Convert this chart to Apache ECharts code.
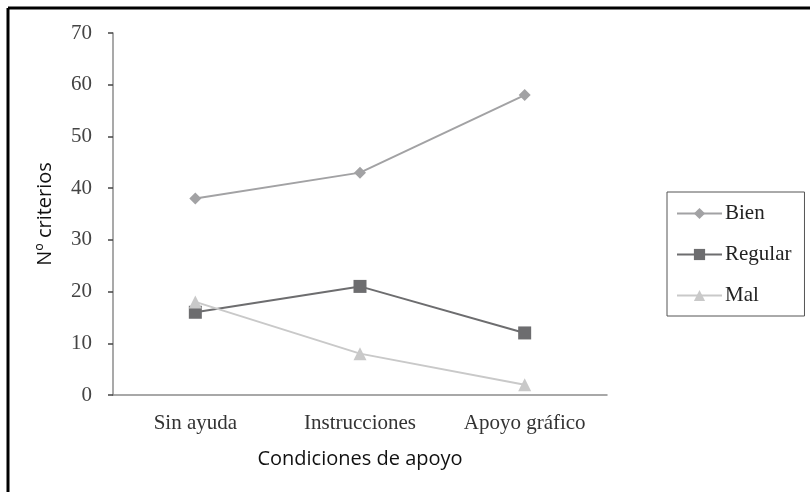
<!DOCTYPE html>
<html>
<head>
<meta charset="utf-8">
<script src="https://cdn.jsdelivr.net/npm/echarts@6/dist/echarts.min.js"></script>
<style>
  html, body { margin: 0; padding: 0; background: #fff; }
  #chart { width: 810px; height: 492px; }
</style>
</head>
<body>
<div id="chart"></div>
<script>
const categories = ['Sin ayuda', 'Instrucciones', 'Apoyo gráfico']
const bien = [38, 43, 58]
const regular = [16, 21, 12]
const mal = [18, 8, 2]
const yTicks = { min: 0, max: 70, interval: 10 }

const serif = 'Liberation Serif'
const sans = 'Open Sans'
const axisGray = '#8c8c8c'

const chart = echarts.init(document.getElementById('chart'))

chart.setOption({
  backgroundColor: '#fff',
  animation: false,
  grid: { left: 113, right: 203, top: 33, bottom: 97 },
  legend: {
    orient: 'vertical',
    left: 667,
    top: 192,
    padding: [11, 13, 10, 9],
    itemWidth: 45,
    itemHeight: 14,
    itemGap: 20,
    borderColor: '#555',
    borderWidth: 1,
    textStyle: { fontFamily: serif, fontSize: 21, color: '#222', lineHeight: 20, padding: [0, 0, 0, -2] },
    data: ['Bien', 'Regular', 'Mal'],
  },
  xAxis: {
    type: 'category',
    data: categories,
    name: 'Condiciones de apoyo',
    nameLocation: 'middle',
    nameGap: 54,
    nameTextStyle: { fontFamily: sans, fontSize: 20, color: '#111' },
    axisLine: { lineStyle: { color: axisGray, width: 1.5 } },
    axisTick: { length: 5, lineStyle: { color: '#444', width: 1.5 } },
    axisLabel: { fontFamily: serif, fontSize: 21, color: '#333', margin: 18 },
  },
  yAxis: {
    type: 'value',
    min: yTicks.min,
    max: yTicks.max,
    interval: yTicks.interval,
    name: 'Nº criterios',
    nameLocation: 'middle',
    nameGap: 58,
    nameTextStyle: { fontFamily: sans, fontSize: 20, color: '#111' },
    axisLine: { show: true, lineStyle: { color: axisGray, width: 1.5 } },
    axisTick: { show: true, length: 5, lineStyle: { color: '#444', width: 1.5 } },
    axisLabel: { fontFamily: serif, fontSize: 21, color: '#444', margin: 21 },
    splitLine: { show: false },
  },
  series: [
    {
      name: 'Bien',
      type: 'line',
      data: bien,
      symbol: 'diamond',
      symbolSize: 12,
      lineStyle: { color: '#a2a2a4', width: 2 },
      itemStyle: { color: '#a2a2a4' },
    },
    {
      name: 'Regular',
      type: 'line',
      data: regular,
      symbol: 'rect',
      symbolSize: 13,
      lineStyle: { color: '#6d6d6f', width: 2 },
      itemStyle: { color: '#6d6d6f' },
    },
    {
      name: 'Mal',
      type: 'line',
      data: mal,
      symbol: 'triangle',
      symbolSize: 13,
      lineStyle: { color: '#c9c9c9', width: 2 },
      itemStyle: { color: '#c9c9c9' },
    },
  ],
  graphic: [
    { type: 'line', shape: { x1: 8, y1: 8, x2: 810, y2: 8 }, style: { stroke: '#000', lineWidth: 3 } },
    { type: 'line', shape: { x1: 8, y1: 8, x2: 8, y2: 492 }, style: { stroke: '#000', lineWidth: 3 } },
  ],
})
</script>
</body>
</html>
